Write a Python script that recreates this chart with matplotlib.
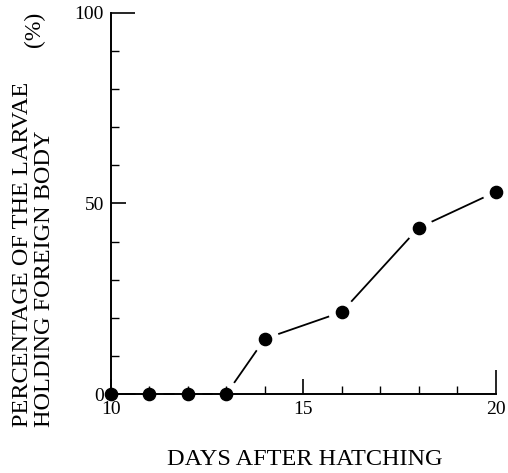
import matplotlib.pyplot as plt
from matplotlib.ticker import MultipleLocator

# Datos
days = [10, 11, 12, 13, 14, 16, 18, 20]
percent = [0, 0, 0, 0, 14.5, 21.5, 43.6, 53.0]

x_ticks = [10, 15, 20]
y_ticks = [0, 50, 100]

plt.rcParams['font.family'] = ['Liberation Serif', 'DejaVu Serif']

fig = plt.figure(figsize=(5.08, 4.73), dpi=100)
ax = fig.add_axes([0.2185, 0.167, 0.757, 0.806])

# linea, halo blanco para separar la linea de los puntos, y puntos negros
ax.plot(days, percent, color='black', lw=1.3, zorder=1, clip_on=False)
ax.plot(days, percent, 'o', color='white', ms=19, zorder=1.2, clip_on=False)
ax.plot(days, percent, 'o', color='black', ms=8.8, zorder=3, clip_on=False)

ax.set_xlim(10, 20)
ax.set_ylim(0, 100)

ax.spines['top'].set_visible(False)
ax.spines['right'].set_visible(False)
for s in ['left', 'bottom']:
    ax.spines[s].set_linewidth(1.4)

ax.set_xticks(x_ticks)
ax.set_yticks(y_ticks)
ax.xaxis.set_minor_locator(MultipleLocator(1))
ax.yaxis.set_minor_locator(MultipleLocator(10))
ax.tick_params(which='major', direction='in', length=11, width=1.2,
               labelsize=14, pad=5)
ax.tick_params(which='minor', direction='in', length=6, width=1.0)

# las marcas del extremo son mas largas
ax.xaxis.get_major_ticks()[-1].tick1line.set_markersize(17)
ax.yaxis.get_major_ticks()[-1].tick1line.set_markersize(17)

fig.text(0.60, 0.016, 'DAYS AFTER HATCHING', ha='center', va='baseline',
         fontsize=17.5)
fig.text(0.044, 0.097, 'PERCENTAGE OF THE LARVAE', rotation=90,
         ha='center', va='bottom', fontsize=17.5)
fig.text(0.087, 0.097, 'HOLDING FOREIGN BODY', rotation=90,
         ha='center', va='bottom', fontsize=17.5)
fig.text(0.067, 0.90, '(%)', rotation=90, ha='center', va='bottom',
         fontsize=17)

fig.savefig('out.png', dpi=100)
